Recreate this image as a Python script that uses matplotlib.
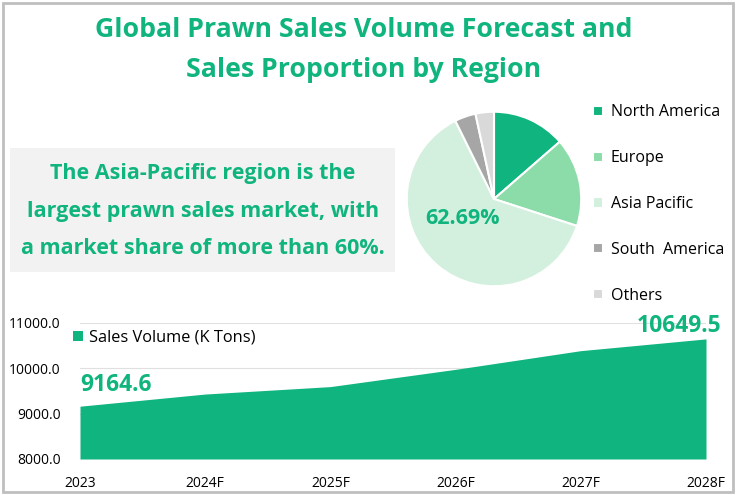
import matplotlib
matplotlib.use("Agg")
import matplotlib.pyplot as plt
from matplotlib.patches import Rectangle

# Area chart data
years = ["2023", "2024F", "2025F", "2026F", "2027F", "2028F"]
sales = [9164.6, 9433.0, 9597.0, 9978.0, 10390.0, 10649.5]

# Pie data
regions = ["North America", "Europe", "Asia Pacific", "South  America", "Others"]
shares = [13.6, 16.4, 62.69, 3.9, 3.41]

GREEN = "#10B47E"
pie_colors = ["#10B47E", "#8BDCA8", "#D3F0DE", "#A6A6A6", "#D9D9D9"]

plt.rcParams['font.family'] = ['Open Sans', 'DejaVu Sans']

W, H = 736, 495
fig = plt.figure(figsize=(W / 100, H / 100), dpi=100)


def box(x0, y0, x1, y1):
    # pixel box (top-left origin) -> figure fraction rect
    return [x0 / W, 1 - y1 / H, (x1 - x0) / W, (y1 - y0) / H]


# outer border
fig.patches.append(Rectangle((3 / W, 3 / H), 730 / W, 489 / H, transform=fig.transFigure,
                             fill=False, edgecolor="#BFBFBF", linewidth=2))

# title
fig.text(364 / W, 1 - 30 / H, "Global Prawn Sales Volume Forecast and", ha="center", va="center",
         fontsize=19.2, fontweight="bold", color=GREEN)
fig.text(364 / W, 1 - 70 / H, "Sales Proportion by Region", ha="center", va="center",
         fontsize=19.2, fontweight="bold", color=GREEN)

# grey note box
fig.patches.append(Rectangle((10 / W, 1 - 272 / H), 385 / W, 124 / H, transform=fig.transFigure,
                             facecolor="#F2F2F2", edgecolor="none"))
note = ["The Asia-Pacific region is the",
        "largest prawn sales market, with",
        "a market share of more than 60%."]
for i, line in enumerate(note):
    fig.text(203 / W, 1 - (174 + i * 37.5) / H, line, ha="center", va="center",
             fontsize=15.5, fontweight="bold", color=GREEN)

# pie
axp = fig.add_axes(box(405, 110, 583, 288))
wedges, _ = axp.pie(shares, colors=pie_colors, startangle=90, counterclock=False,
                    wedgeprops=dict(edgecolor="white", linewidth=1.5))
axp.set_xlim(-1.02, 1.02)
axp.set_ylim(-1.02, 1.02)
axp.text(-0.36, -0.22, "%.2f%%" % shares[2], ha="center", va="center",
         fontsize=15.5, fontweight="bold", color=GREEN)

fig.legend(wedges, regions, loc="upper left", bbox_to_anchor=(587 / W, 1 - 98 / H),
           frameon=False, fontsize=11.5, handlelength=0.6, handleheight=0.6,
           handletextpad=0.5, labelspacing=1.87, borderaxespad=0)

# area chart
ax = fig.add_axes(box(80, 323, 706, 459))
x = list(range(len(years)))
ax.fill_between(x, sales, 8000, color=GREEN, linewidth=0, label="Sales Volume (K Tons)")
ax.set_xlim(0, len(years) - 1)
ax.set_ylim(8000, 11000)
ax.set_yticks([8000, 9000, 10000, 11000])
ax.set_yticklabels(["%.1f" % v for v in [8000, 9000, 10000, 11000]], fontsize=10)
ax.set_xticks(x)
ax.set_xticklabels(years, fontsize=10)
ax.tick_params(length=0, pad=12)
ax.tick_params(axis="y", pad=14)
ax.grid(axis="y", color="#E0E0E0", linewidth=0.8)
ax.set_axisbelow(True)
for s in ax.spines.values():
    s.set_visible(False)
ax.legend(loc="upper left", bbox_to_anchor=(-0.035, 1.06), frameon=False, fontsize=11.8,
          handlelength=0.6, handleheight=0.6, handletextpad=0.4)

ax.annotate("%.1f" % sales[0], (x[0], sales[0]), xytext=(0, 15), textcoords="offset points",
            ha="left", va="center", fontsize=16.5, fontweight="bold", color=GREEN)
ax.annotate("%.1f" % sales[-1], (x[-1], sales[-1]), xytext=(11, 9), textcoords="offset points",
            ha="right", va="center", fontsize=16.5, fontweight="bold", color=GREEN,
            annotation_clip=False)

fig.savefig("out.png", dpi=100)
